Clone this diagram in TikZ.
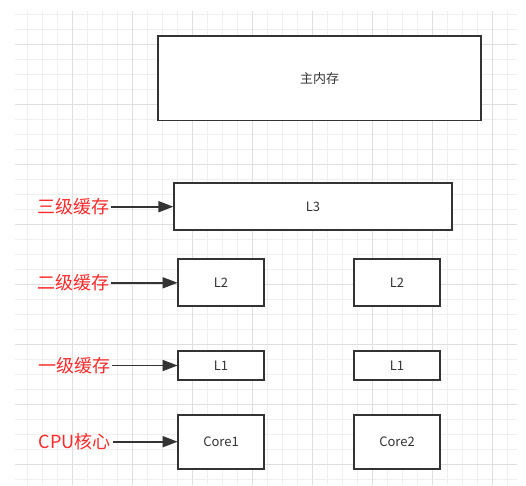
\documentclass[tikz,border=0pt]{standalone}
\usepackage{fontspec}
\setmainfont{Noto Sans CJK SC}
\usetikzlibrary{arrows.meta}
\definecolor{gridminor}{HTML}{EFEFEF}
\definecolor{gridmajor}{HTML}{DFDFDF}
\definecolor{boxline}{HTML}{333333}
\definecolor{lblred}{HTML}{FF2A2A}
\tikzset{
  box/.style={draw=boxline, line width=1.8pt, fill=white, text=boxline, font=\fontsize{13}{15}\selectfont, inner sep=0pt},
  lbl/.style={text=lblred, font=\fontsize{18}{20}\selectfont, inner sep=0pt, anchor=east},
  arr/.style={draw=boxline, line width=1.7pt, -{Triangle[length=15pt,width=11pt]}, shorten >=-0.5pt}
}
\begin{document}
\begin{tikzpicture}[x=1pt,y=-1pt]
\useasboundingbox (0,0) rectangle (526,485);
\fill[white] (0,0) rectangle (526,485);
\begin{scope}
\clip (15,11) rectangle (517,485);
\foreach \i in {0,...,33} {
  \draw[gridminor, line width=0.8pt] ({12.5+15*\i},11) -- ({12.5+15*\i},485);
}
\foreach \j in {0,...,31} {
  \draw[gridminor, line width=0.8pt] (15,{14.3+15*\j}) -- (517,{14.3+15*\j});
}
\foreach \i in {0,...,8} {
  \draw[gridmajor, line width=0.8pt] ({12.5+60*\i},11) -- ({12.5+60*\i},485);
}
\foreach \j in {0,...,7} {
  \draw[gridmajor, line width=0.8pt] (15,{44.3+60*\j}) -- (517,{44.3+60*\j});
}
\end{scope}

\node[box, minimum width=323pt, minimum height=84.5pt] (mem) at (319.5,78.3) {主内存};
\node[box, minimum width=278.5pt, minimum height=46.7pt] (l3) at (313,206.7) {L3};
\node[box, minimum width=86pt, minimum height=47pt] (l2a) at (221,282.8) {L2};
\node[box, minimum width=86pt, minimum height=47pt] (l2b) at (397,282.8) {L2};
\node[box, minimum width=86pt, minimum height=28.4pt] (l1a) at (221,365.5) {L1};
\node[box, minimum width=86pt, minimum height=28.4pt] (l1b) at (397,365.5) {L1};
\node[box, minimum width=86pt, minimum height=54pt] (c1) at (221,441.7) {Core1};
\node[box, minimum width=86pt, minimum height=54pt] (c2) at (397,441.7) {Core2};

\node[lbl] (t3) at (110,206.7) {三级缓存};
\node[lbl] (t2) at (110,282.8) {二级缓存};
\node[lbl] (t1) at (111,365.5) {一级缓存};
\node[lbl] (tc) at (111,441.7) {CPU核心};

\draw[arr] (t3.east) ++(1,0) coordinate (a3) (a3) -- (l3.west);
\draw[arr] (t2.east) ++(1,0) coordinate (a2) (a2) -- (l2a.west);
\draw[arr] (t1.east) ++(1,0) coordinate (a1) (a1) -- (l1a.west);
\draw[arr] (tc.east) ++(2,0) coordinate (ac) (ac) -- (c1.west);
\end{tikzpicture}
\end{document}
